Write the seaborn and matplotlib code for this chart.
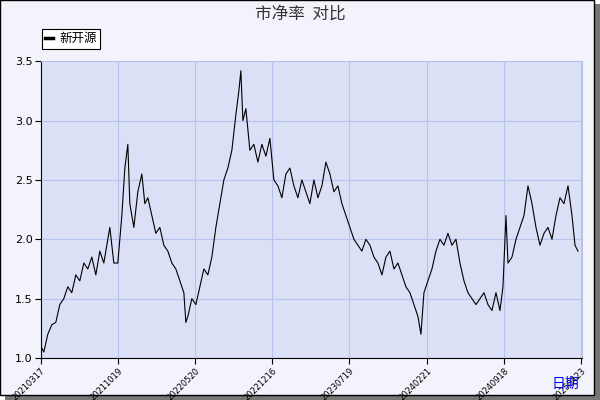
import matplotlib
matplotlib.use("Agg")
import matplotlib.pyplot as plt
import pandas as pd
import seaborn as sns
from matplotlib.patches import Rectangle

# session position along the axis and price-to-book value
session = [41, 44, 48, 52, 56, 60, 64, 68, 72, 76, 80, 84, 88, 92, 96, 100, 104, 108, 110, 114,
           118, 122, 125, 128, 130, 134, 138, 142, 145, 148, 152, 156, 160, 164, 168, 172, 176, 180,
           184, 186, 188, 192, 196, 200, 204, 208, 212, 216, 220, 224, 228, 232, 236, 239, 241, 243,
           246, 250, 254, 258, 262, 266, 270, 274, 278, 282, 286, 290, 294, 298, 302, 306, 310, 314,
           318, 322, 326, 330, 334, 338, 342, 346, 350, 354, 358, 362, 366, 370, 374, 378, 382, 386,
           390, 394, 398, 402, 406, 410, 414, 418, 421, 424, 428, 432, 436, 440, 444, 448, 452, 456,
           460, 464, 468, 472, 476, 480, 484, 488, 492, 496, 500, 503, 506, 508, 512, 516, 520, 524,
           528, 532, 536, 540, 544, 548, 552, 556, 560, 564, 568, 572, 575, 578]
pb = [1.10, 1.05, 1.20, 1.28, 1.30, 1.45, 1.50, 1.60, 1.55, 1.70, 1.65, 1.80, 1.75, 1.85, 1.70,
      1.90, 1.80, 2.00, 2.10, 1.80, 1.80, 2.20, 2.60, 2.80, 2.30, 2.10, 2.40, 2.55, 2.30, 2.35,
      2.20, 2.05, 2.10, 1.95, 1.90, 1.80, 1.75, 1.65, 1.55, 1.30, 1.35, 1.50, 1.45, 1.60, 1.75,
      1.70, 1.85, 2.10, 2.30, 2.50, 2.60, 2.75, 3.05, 3.25, 3.42, 3.00, 3.10, 2.75, 2.80, 2.65,
      2.80, 2.70, 2.85, 2.50, 2.45, 2.35, 2.55, 2.60, 2.45, 2.35, 2.50, 2.40, 2.30, 2.50, 2.35,
      2.45, 2.65, 2.55, 2.40, 2.45, 2.30, 2.20, 2.10, 2.00, 1.95, 1.90, 2.00, 1.95, 1.85, 1.80,
      1.70, 1.85, 1.90, 1.75, 1.80, 1.70, 1.60, 1.55, 1.45, 1.35, 1.20, 1.55, 1.65, 1.75, 1.90,
      2.00, 1.95, 2.05, 1.95, 2.00, 1.80, 1.65, 1.55, 1.50, 1.45, 1.50, 1.55, 1.45, 1.40, 1.55,
      1.40, 1.60, 2.20, 1.80, 1.85, 2.00, 2.10, 2.20, 2.45, 2.30, 2.10, 1.95, 2.05, 2.10, 2.00,
      2.20, 2.35, 2.30, 2.45, 2.20, 1.95, 1.90]
tick_pos = [41, 118, 195, 272, 349, 427, 504, 581]
tick_labels = ["20210317", "20211019", "20220520", "20221216", "20230719",
               "20240221", "20240918", "20250423"]

df = pd.DataFrame({"session": session, "pb": pb})

plt.rcParams["font.family"] = ["Noto Sans CJK SC", "DejaVu Sans"]
fig = plt.figure(figsize=(6, 4), dpi=100, facecolor="white")
fig.patches.append(Rectangle((0.008, 0.0), 0.992, 0.99, transform=fig.transFigure,
                             facecolor="#777777", edgecolor="none", zorder=-2))
fig.patches.append(Rectangle((0.0, 0.012), 0.99, 0.988, transform=fig.transFigure,
                             facecolor="#f2f3fb", edgecolor="black", linewidth=1, zorder=-1))
ax = fig.add_axes([0.068, 0.105, 0.902, 0.742])
ax.set_facecolor("#dbe0f6")

sns.lineplot(data=df, x="session", y="pb", ax=ax, color="black", linewidth=0.8, label="新开源")

ax.set_xlim(41, 582)
ax.set_ylim(1.0, 3.5)
ax.set_yticks([1.0, 1.5, 2.0, 2.5, 3.0, 3.5])
ax.set_yticklabels([f"{v:.1f}" for v in [1.0, 1.5, 2.0, 2.5, 3.0, 3.5]], fontsize=8,
                   fontfamily="DejaVu Sans")
ax.set_xticks(tick_pos)
ax.set_xticklabels(tick_labels, rotation=45, ha="right", va="top", rotation_mode="anchor",
                   fontsize=6, fontfamily="DejaVu Sans")
ax.grid(True, color="#b6c3ea", linewidth=0.8)
for s in ["top", "right"]:
    ax.spines[s].set_color("#b6c3ea")
for s in ["left", "bottom"]:
    ax.spines[s].set_color("black")
ax.tick_params(length=4, color="black", pad=2)
ax.set_xlabel("")
ax.set_ylabel("")
fig.text(0.965, 0.03, "日期", color="#0000ee", fontsize=10, ha="right")
fig.suptitle("市净率  对比", y=0.985, fontsize=12, color="#333333")
leg = ax.legend(loc="lower left", bbox_to_anchor=(-0.01, 1.02), frameon=True, fancybox=False,
                edgecolor="black", fontsize=9, handlelength=0.6, handletextpad=0.5,
                borderpad=0.3, framealpha=1)
leg.get_frame().set_linewidth(0.8)
for line in leg.get_lines():
    line.set_linewidth(2.5)

fig.savefig("out.png", dpi=100)
